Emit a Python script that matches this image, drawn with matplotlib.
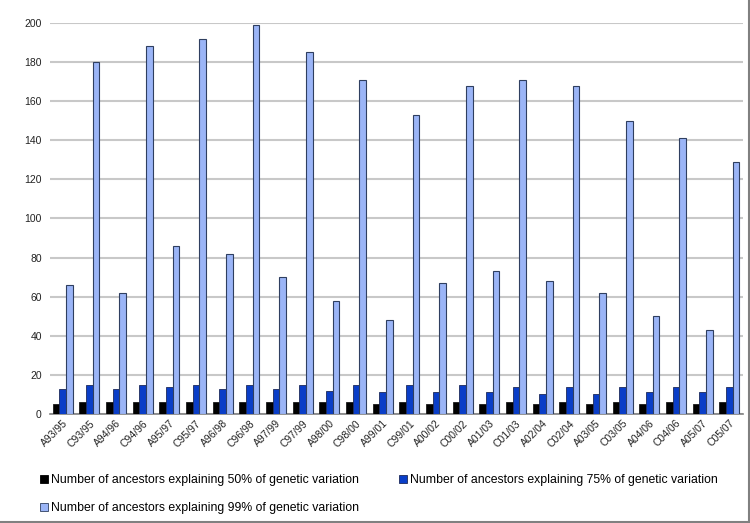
import matplotlib
matplotlib.use("Agg")
import matplotlib.pyplot as plt
import numpy as np
from matplotlib.lines import Line2D

categories = ["A93/95", "C93/95", "A94/96", "C94/96", "A95/97", "C95/97", "A96/98", "C96/98",
              "A97/99", "C97/99", "A98/00", "C98/00", "A99/01", "C99/01", "A00/02", "C00/02",
              "A01/03", "C01/03", "A02/04", "C02/04", "A03/05", "C03/05", "A04/06", "C04/06",
              "A05/07", "C05/07"]
v50 = [5, 6, 6, 6, 6, 6, 6, 6, 6, 6, 6, 6, 5, 6, 5, 6, 5, 6, 5, 6, 5, 6, 5, 6, 5, 6]
v75 = [13, 15, 13, 15, 14, 15, 13, 15, 13, 15, 12, 15, 11, 15, 11, 15, 11, 14, 10, 14, 10, 14, 11, 14, 11, 14]
v99 = [66, 180, 62, 188, 86, 192, 82, 199, 70, 185, 58, 171, 48, 153, 67, 168, 73, 171, 68, 168, 62, 150, 50, 141, 43, 129]
series_labels = ["Number of ancestors explaining 50% of genetic variation",
                 "Number of ancestors explaining 75% of genetic variation",
                 "Number of ancestors explaining 99% of genetic variation"]
yticks = list(range(0, 201, 20))

plt.rcParams['font.family'] = ['Liberation Sans', 'DejaVu Sans']

fig = plt.figure(figsize=(7.5, 5.23), dpi=100)
ax = fig.add_axes([49.5 / 750, 1 - 414 / 523, (742.5 - 49.5) / 750, (414 - 23) / 523])

x = np.arange(len(categories))
w = 0.25
ax.bar(x - w, v50, w, color="#000000", edgecolor="#1a1a1a", linewidth=0.6, label=series_labels[0], zorder=3)
ax.bar(x, v75, w, color="#0a3ec8", edgecolor="#1c2a5a", linewidth=0.6, label=series_labels[1], zorder=3)
ax.bar(x + w, v99, w, color="#9bb5f7", edgecolor="#2f3f60", linewidth=0.8, label=series_labels[2], zorder=3)

ax.set_xlim(-0.5, len(categories) - 0.5)
ax.set_ylim(0, 200)
ax.set_yticks(yticks)
ax.set_yticklabels([str(t) for t in yticks], fontsize=7.5, color="#222222")
ax.yaxis.grid(True, color="#c8c8c8", linewidth=1.5, zorder=0)
ax.set_axisbelow(True)
ax.tick_params(axis='y', length=0, pad=5.5)
ax.tick_params(axis='x', length=0, pad=3)
ax.set_xticks(x)
ax.set_xticklabels(categories, rotation=45, ha='right', rotation_mode='anchor', fontsize=7.5, color="#222222")
for s in ["left", "top", "right"]:
    ax.spines[s].set_visible(False)
ax.spines["bottom"].set_color("#808080")
ax.spines["bottom"].set_linewidth(1.2)

handles = [Line2D([], [], marker='s', linestyle='none', markersize=6, markerfacecolor=c, markeredgecolor=e, markeredgewidth=0.6)
           for c, e in [("#000000", "#000000"), ("#0a3ec8", "#1c2a5a"), ("#9bb5f7", "#2f3f60")]]
order = [0, 2, 1]
leg = fig.legend([handles[i] for i in order], [series_labels[i] for i in order], ncol=2,
                 loc='upper left', bbox_to_anchor=(40 / 750, 1 - 474 / 523), frameon=False,
                 fontsize=8.8, handlelength=0.6, handletextpad=0.3, columnspacing=3.3,
                 labelspacing=1.32, borderaxespad=0, borderpad=0)

# figure border (right and bottom visible)
fig.add_artist(Line2D([748.5 / 750, 748.5 / 750], [1 - 521.5 / 523, 1], transform=fig.transFigure, color="#808080", linewidth=1.5))
fig.add_artist(Line2D([0, 748.5 / 750], [1 - 521.5 / 523, 1 - 521.5 / 523], transform=fig.transFigure, color="#808080", linewidth=1.5))

fig.savefig("out.png", dpi=100)
